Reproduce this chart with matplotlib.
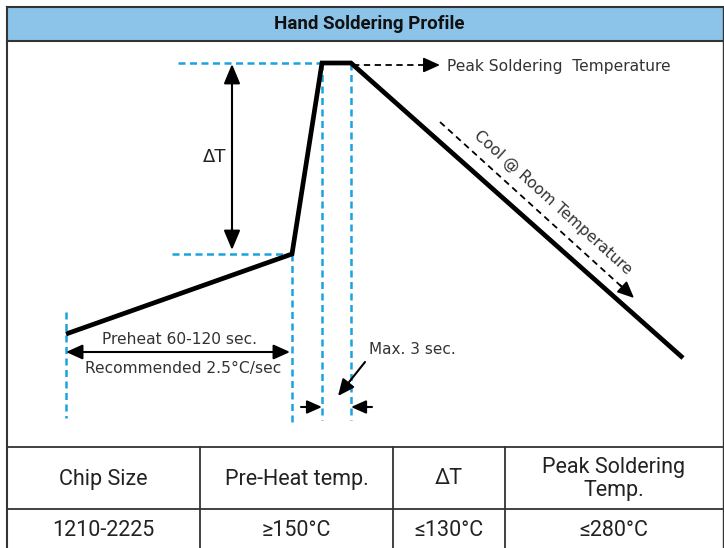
import matplotlib.pyplot as plt

# soldering profile (diagram units: x = time, y = temperature, drawn top-down)
profile_x = [66, 292, 322, 351, 683]
profile_y = [334, 254, 63, 63, 358]

table_header = ["Chip Size", "Pre-Heat temp.", "ΔT", "Peak Soldering\nTemp."]
table_row = ["1210-2225", "≥150°C", "≤130°C", "≤280°C"]
col_edges = [7, 200, 393, 505, 723]

title = "Hand Soldering Profile"
BLUE = "#1aa3e0"
HEAD = "#8cc3e9"
EDGE = "#333333"
TXT = "#333333"

fig = plt.figure(figsize=(7.24, 5.48), dpi=100)
ax = fig.add_axes([0, 0, 1, 1])
ax.set_xlim(0, 724)
ax.set_ylim(548, 0)
ax.axis("off")

# frame and header band
ax.add_patch(plt.Rectangle((7, 7), 716, 34, facecolor=HEAD, edgecolor="none"))
ax.plot([7, 723], [7, 7], color=EDGE, lw=1.5)
ax.plot([7, 723], [41, 41], color=EDGE, lw=1.5)
ax.plot([7, 7], [7, 548], color=EDGE, lw=1.5)
ax.plot([723, 723], [7, 548], color=EDGE, lw=1.0)
ax.text(369, 24, title, ha="center", va="center", fontsize=13.5,
        fontweight="bold", family="Roboto", color="#111111")

# blue guide lines
dash = dict(color=BLUE, lw=1.8, dashes=(2.8, 1.8))
ax.plot([178, profile_x[2]], [profile_y[2], profile_y[2]], **dash)
ax.plot([172, profile_x[1]], [profile_y[1], profile_y[1]], **dash)
ax.plot([profile_x[0]] * 2, [312, 418], **dash)
ax.plot([profile_x[1]] * 2, [profile_y[1], 422], **dash)
ax.plot([profile_x[2]] * 2, [profile_y[2], 420], **dash)
ax.plot([profile_x[3]] * 2, [profile_y[3], 420], **dash)

# profile curve
ax.plot(profile_x, profile_y, color="black", lw=3.4, solid_capstyle="butt",
        solid_joinstyle="miter")

# delta T arrow
ax.annotate("", xy=(232, 64), xytext=(232, 250),
            arrowprops=dict(arrowstyle="<|-|>,head_length=1.2,head_width=0.5",
                            color="black", lw=1.5, shrinkA=0, shrinkB=0))
ax.text(215, 157, "ΔT", ha="center", va="center", fontsize=13, color="#222222")

# peak temperature arrow
ax.plot([353, 425], [65, 65], color="black", lw=1.3, dashes=(3.5, 2.5))
ax.annotate("", xy=(440, 65), xytext=(424, 65),
            arrowprops=dict(arrowstyle="-|>,head_length=1.0,head_width=0.45",
                            color="black", lw=1.3, shrinkA=0, shrinkB=0))
ax.text(447, 67, "Peak Soldering  Temperature", ha="left", va="center",
        fontsize=11.2, color=TXT)

# cooling arrow
ax.plot([440, 622], [122, 287], color="black", lw=1.3, dashes=(3.5, 2.5))
ax.annotate("", xy=(634, 298), xytext=(620, 285),
            arrowprops=dict(arrowstyle="-|>,head_length=1.0,head_width=0.45",
                            color="black", lw=1.3, shrinkA=0, shrinkB=0))
ax.text(553, 203, "Cool @ Room Temperature", ha="center", va="center",
        fontsize=11.2, color=TXT, rotation=-42, rotation_mode="anchor")

# preheat arrow
ax.annotate("", xy=(66, 352), xytext=(290, 352),
            arrowprops=dict(arrowstyle="<|-|>,head_length=1.0,head_width=0.45",
                            color="black", lw=1.5, shrinkA=0, shrinkB=0))
ax.text(179, 339, "Preheat 60-120 sec.", ha="center", va="center",
        fontsize=11.2, color=TXT)
ax.text(183, 368, "Recommended 2.5°C/sec", ha="center", va="center",
        fontsize=11.2, color=TXT)

# max 3 sec
ax.annotate("", xy=(322, 407), xytext=(301, 407),
            arrowprops=dict(arrowstyle="-|>,head_length=0.9,head_width=0.4",
                            color="black", lw=1.5, shrinkA=0, shrinkB=0))
ax.annotate("", xy=(351, 407), xytext=(372, 407),
            arrowprops=dict(arrowstyle="-|>,head_length=0.9,head_width=0.4",
                            color="black", lw=1.5, shrinkA=0, shrinkB=0))
ax.annotate("", xy=(338, 396), xytext=(365, 362),
            arrowprops=dict(arrowstyle="-|>,head_length=1.0,head_width=0.45",
                            color="black", lw=1.5, shrinkA=0, shrinkB=0))
ax.text(369, 350, "Max. 3 sec.", ha="left", va="center", fontsize=11,
        color=TXT)

# table
ax.plot([7, 723], [447, 447], color=EDGE, lw=1.3)
ax.plot([7, 723], [509, 509], color=EDGE, lw=1.3)
for x in col_edges[1:-1]:
    ax.plot([x, x], [447, 548], color=EDGE, lw=1.3)
for i in range(len(table_header)):
    cx = (col_edges[i] + col_edges[i + 1]) / 2
    ax.text(cx, 479, table_header[i], ha="center", va="center", fontsize=15.5,
            family="Roboto", color="#222222", linespacing=1.1)
    ax.text(cx, 530, table_row[i], ha="center", va="center", fontsize=15.5,
            family="Roboto", color="#222222")

fig.savefig("out.png", dpi=100)
